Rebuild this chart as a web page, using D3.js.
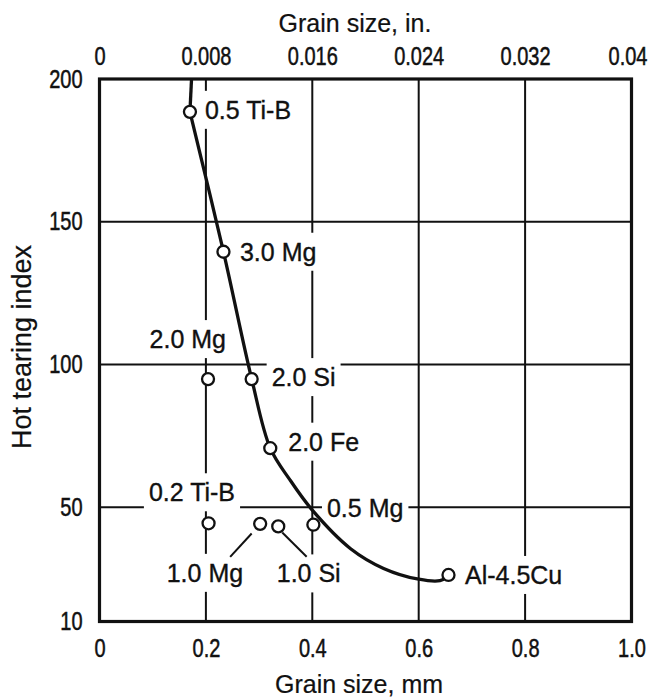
<!DOCTYPE html>
<html>
<head>
<meta charset="utf-8">
<script src="https://cdn.jsdelivr.net/npm/d3@7"></script>
<style>
  body { margin: 0; background: #fff; }
  svg { display: block; }
  .tick text { font-family: "Liberation Sans", Arial, sans-serif; font-size: 25px; fill: #111; stroke: #111; stroke-width: 0.5; }
  .lbl { font-family: "Liberation Sans", Arial, sans-serif; font-size: 25px; fill: #111; stroke: #111; stroke-width: 0.35; }
  .title { font-family: "Liberation Sans", Arial, sans-serif; font-size: 25px; fill: #111; stroke: #111; stroke-width: 0.2; }
</style>
</head>
<body>
<div id="chart"></div>
<script>
// tick values and labels
var bottomTicks = [0, 0.2, 0.4, 0.6, 0.8, 1.0];
var bottomTickLabels = ["0", "0.2", "0.4", "0.6", "0.8", "1.0"];
var topTicks = [0, 0.008, 0.016, 0.024, 0.032, 0.04];
var topTickLabels = ["0", "0.008", "0.016", "0.024", "0.032", "0.04"];
var leftTicks = [10, 50, 100, 150, 200];
var gridX = [0.2, 0.4, 0.6, 0.8];
var gridY = [50, 100, 150];

// measured alloys: grain size (mm) and hot tearing index
var alloys = ["0.5 Ti-B", "3.0 Mg", "2.0 Mg", "2.0 Si", "2.0 Fe", "0.2 Ti-B", "1.0 Mg", "1.0 Si", "0.5 Mg", "Al-4.5Cu"];
var grainSize = [0.17, 0.233, 0.204, 0.286, 0.321, 0.205, 0.302, 0.336, 0.402, 0.656];
var hotTearing = [188.5, 139.5, 94.9, 94.9, 70.7, 44.4, 44.2, 43.3, 43.9, 26.3];

// hand drawn trend curve
var curveX = [0.173, 0.170, 0.233, 0.286, 0.321, 0.358, 0.400, 0.472, 0.534, 0.600, 0.640, 0.653];
var curveY = [200, 188.5, 139.5, 95, 70.7, 59.6, 49, 35.5, 28.6, 24.8, 24.3, 25.6];

// label placement (pixels, relative to the point)
var labelPlace = {
  "0.5 Ti-B": {dx: 15, dy: -2, anchor: "start"},
  "3.0 Mg": {dx: 16.5, dy: 0, anchor: "start"},
  "2.0 Mg": {dx: 18, dy: -40, anchor: "end"},
  "2.0 Si": {dx: 20, dy: -2, anchor: "start"},
  "2.0 Fe": {dx: 18, dy: -6.5, anchor: "start"},
  "0.2 Ti-B": {dx: 26.5, dy: -31, anchor: "end"},
  "1.0 Mg": {dx: -17, dy: 49, anchor: "end"},
  "1.0 Si": {dx: -1.5, dy: 47, anchor: "start"},
  "0.5 Mg": {dx: 13.6, dy: -17, anchor: "start"},
  "Al-4.5Cu": {dx: 16.5, dy: 0, anchor: "start"}
};
var leaders = {
  "1.0 Mg": [[-8.5, 9.6], [-30, 33]],
  "1.0 Si": [[4, 6], [28.4, 30.4]]
};

var margin = {top: 79, right: 17.5, bottom: 78.5, left: 99.5},
    W = 649, H = 700,
    width = W - margin.left - margin.right,
    height = H - margin.top - margin.bottom;

var x = d3.scaleLinear().domain([0, 1]).range([0, width]);
var xTop = d3.scaleLinear().domain([0, 0.04]).range([0, width]);
var y = d3.scaleLinear().domain([10, 200]).range([height, 0]);
var squeeze = 0.8; // tick numbers are set in a condensed face

var svg = d3.select("#chart").append("svg")
    .attr("width", W).attr("height", H)
  .append("g")
    .attr("transform", "translate(" + margin.left + "," + margin.top + ")");

// grid
svg.selectAll(".gx").data(gridX).enter().append("line")
    .attr("x1", function(d) { return x(d); }).attr("x2", function(d) { return x(d); })
    .attr("y1", 0).attr("y2", height)
    .attr("stroke", "#111").attr("stroke-width", 2);
svg.selectAll(".gy").data(gridY).enter().append("line")
    .attr("y1", function(d) { return y(d); }).attr("y2", function(d) { return y(d); })
    .attr("x1", 0).attr("x2", width)
    .attr("stroke", "#111").attr("stroke-width", 2);

var pts = alloys.map(function(a, i) {
  return {name: a, gx: grainSize[i], hi: hotTearing[i]};
});

var bgLayer = svg.append("g");
var leaderLayer = svg.append("g");
var curveLayer = svg.append("g");
var ptLayer = svg.append("g");
var txtLayer = svg.append("g");

var labels = txtLayer.selectAll("text").data(pts).enter().append("text")
    .attr("class", "lbl")
    .attr("x", function(d) { return x(d.gx) + labelPlace[d.name].dx; })
    .attr("y", function(d) { return y(d.hi) + labelPlace[d.name].dy; })
    .attr("dy", "0.36em")
    .attr("text-anchor", function(d) { return labelPlace[d.name].anchor; })
    .text(function(d) { return d.name; });

// white boxes behind labels break the grid lines like in the print
labels.each(function(d) {
  var b = this.getBBox();
  var cy = y(d.hi) + labelPlace[d.name].dy;
  bgLayer.append("rect")
      .attr("x", b.x - 5).attr("width", b.width + 10)
      .attr("y", cy - 19).attr("height", 38)
      .attr("fill", "#fff");
});

// leader lines
Object.keys(leaders).forEach(function(k) {
  var p = pts.filter(function(d) { return d.name === k; })[0];
  var l = leaders[k];
  leaderLayer.append("line")
      .attr("x1", x(p.gx) + l[0][0]).attr("y1", y(p.hi) + l[0][1])
      .attr("x2", x(p.gx) + l[1][0]).attr("y2", y(p.hi) + l[1][1])
      .attr("stroke", "#111").attr("stroke-width", 2);
});

// trend curve: straight drop from the top frame, then the smooth curve
var curvePts = curveX.map(function(v, i) { return [v, curveY[i]]; });
var lineGen = d3.line()
    .x(function(d) { return x(d[0]); })
    .y(function(d) { return y(d[1]); });
curveLayer.append("path")
    .datum(curvePts.slice(0, 2))
    .attr("fill", "none").attr("stroke", "#111").attr("stroke-width", 3.3)
    .attr("d", lineGen);
curveLayer.append("path")
    .datum(curvePts.slice(1))
    .attr("fill", "none").attr("stroke", "#111").attr("stroke-width", 3.3)
    .attr("d", lineGen.curve(d3.curveCatmullRom.alpha(0.5)));

// points
ptLayer.selectAll("circle").data(pts).enter().append("circle")
    .attr("cx", function(d) { return x(d.gx); })
    .attr("cy", function(d) { return y(d.hi); })
    .attr("r", 6)
    .attr("fill", "#fff")
    .attr("stroke", "#111")
    .attr("stroke-width", 2.3);

// frame
svg.append("rect")
    .attr("width", width).attr("height", height)
    .attr("fill", "none").attr("stroke", "#111").attr("stroke-width", 3.2);

// axes
svg.append("g")
    .attr("transform", "translate(0," + height + ")")
    .call(d3.axisBottom(x).tickValues(bottomTicks).tickSize(0).tickPadding(18)
        .tickFormat(function(d, i) { return bottomTickLabels[i]; }))
    .call(function(g) {
      g.select(".domain").remove();
      g.selectAll("text").attr("transform", "scale(" + squeeze + ",1)");
    });

svg.append("g")
    .call(d3.axisTop(xTop).tickValues(topTicks).tickSize(0).tickPadding(14.5)
        .tickFormat(function(d, i) { return topTickLabels[i]; }))
    .call(function(g) {
      g.select(".domain").remove();
      g.selectAll("text").attr("transform", "scale(" + squeeze + ",1)")
          .attr("dx", function(d, i) { return i === topTicks.length - 1 ? -5 : 0; });
    });

svg.append("g")
    .call(d3.axisLeft(y).tickValues(leftTicks).tickSize(0).tickPadding(17 / squeeze))
    .call(function(g) {
      g.select(".domain").remove();
      g.selectAll("text").attr("transform", "scale(" + squeeze + ",1)");
    });

// titles
svg.append("text").attr("class", "title")
    .attr("x", 355 - margin.left).attr("y", 32 - margin.top)
    .attr("text-anchor", "middle").text("Grain size, in.");
svg.append("text").attr("class", "title")
    .attr("x", 359 - margin.left).attr("y", 693 - margin.top)
    .attr("text-anchor", "middle").text("Grain size, mm");
svg.append("text").attr("class", "title")
    .style("font-size", "27px")
    .attr("transform", "translate(" + (31 - margin.left) + "," + (347 - margin.top) + ") rotate(-90)")
    .attr("text-anchor", "middle").text("Hot tearing index");
</script>
</body>
</html>
